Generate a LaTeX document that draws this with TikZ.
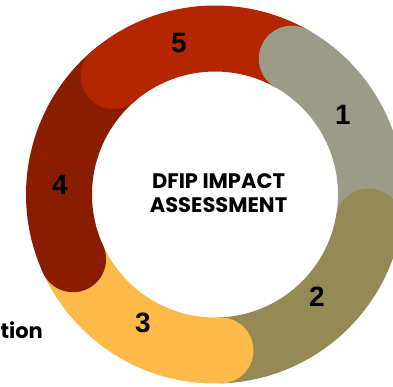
\documentclass[tikz,border=0pt]{standalone}
\usepackage{fontspec}
\setmainfont{Poppins}
\newfontfamily\numfont{Liberation Sans}
\definecolor{segone}{HTML}{9B9B88}
\definecolor{segtwo}{HTML}{958A55}
\definecolor{segthree}{HTML}{FDBA48}
\definecolor{segfour}{HTML}{8A1D00}
\definecolor{segfive}{HTML}{B32600}
\tikzset{
  seg/.style={line width=66pt},
  capdot/.style={radius=33pt},
  num/.style={font=\numfont\bfseries\fontsize{28}{28}\selectfont, inner sep=0pt},
  title/.style={font=\bfseries\fontsize{21}{24}\selectfont, align=center, inner sep=0pt}
}
\begin{document}
\begin{tikzpicture}
\useasboundingbox (0,0) rectangle (393pt,386pt);
\clip (0,0) rectangle (393pt,386pt);
\coordinate (C) at (215pt,191.5pt);
% arcs (clockwise), butt ends
\draw[seg,segfive]  ([shift={(130.5:156pt)}]C) arc[start angle=130.5, end angle=60.5, radius=156pt];
\draw[seg,segone]   ([shift={(60.5:156pt)}]C) arc[start angle=60.5, end angle=-10, radius=156pt];
\draw[seg,segtwo]   ([shift={(-10:156pt)}]C) arc[start angle=-10, end angle=-88, radius=156pt];
\draw[seg,segthree] ([shift={(-88:156pt)}]C) arc[start angle=-88, end angle=-155.5, radius=156pt];
\draw[seg,segfour]  ([shift={(-155.5:156pt)}]C) arc[start angle=-155.5, end angle=-229.5, radius=156pt];
% round caps at each segment's clockwise start
\fill[segfive]  ([shift={(130.5:156pt)}]C) circle[capdot];
\fill[segone]   ([shift={(60.5:156pt)}]C) circle[capdot];
\fill[segtwo]   ([shift={(-10:156pt)}]C) circle[capdot];
\fill[segthree] ([shift={(-88:156pt)}]C) circle[capdot];
\fill[segfour]  ([shift={(-155.5:156pt)}]C) circle[capdot];
% numbers
\node[num] (n5) at (179pt,343pt) {5};
\node[num] (n1) at (343pt,271pt) {1};
\node[num] (n2) at (317pt,89pt) {2};
\node[num] (n3) at (143pt,63pt) {3};
\node[num] (n4) at (60pt,201pt) {4};
% title
\node[title] (t) at (218.5pt,193pt) {DFIP IMPACT\\ASSESSMENT};
\node[font=\bfseries\fontsize{21}{24}\selectfont, inner sep=0pt, anchor=base east] (tion) at (43pt,48pt) {tion};
\end{tikzpicture}
\end{document}
